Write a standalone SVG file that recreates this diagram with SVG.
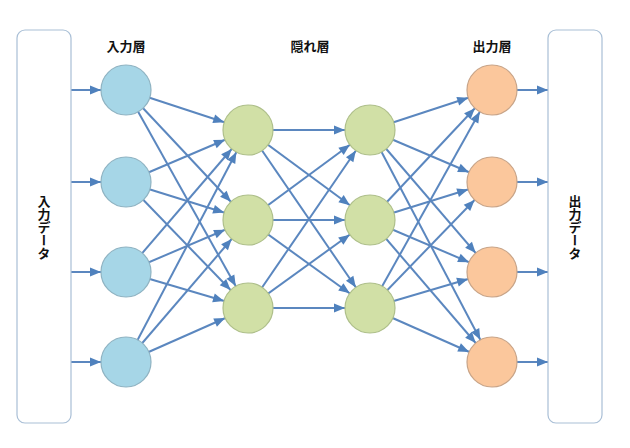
<svg xmlns="http://www.w3.org/2000/svg" width="630" height="448" viewBox="0 0 630 448">
<defs>
<marker id="ah" markerUnits="userSpaceOnUse" markerWidth="40" markerHeight="12" viewBox="0 -6 40 12" refX="40" refY="0" orient="auto" overflow="visible"><path d="M4,-4.5 L15,0 L4,4.5 Z" fill="#4f81bd"/></marker>
</defs>
<style>
.c line{stroke:#5b87bf;stroke-width:2;marker-end:url(#ah)}
.box{fill:#fff;stroke:#a9bfd6;stroke-width:1.2}
.in{fill:#a6d6e7;stroke:#8fb3c2;stroke-width:1.2}
.hd{fill:#d1e0a6;stroke:#aebf8a;stroke-width:1.2}
.out{fill:#fbc79c;stroke:#c8a488;stroke-width:1.2}
text{font-family:"Noto Sans CJK JP",sans-serif;font-weight:bold;font-size:13px;fill:#111}
.v{writing-mode:vertical-rl;text-anchor:middle}
</style>
<rect width="630" height="448" fill="#fff"/>
<g id="connectors" class="c">
<line x1="71" y1="90" x2="126" y2="90"/><line x1="71" y1="182" x2="126" y2="182"/><line x1="71" y1="272" x2="126" y2="272"/><line x1="71" y1="362" x2="126" y2="362"/>
<line x1="126" y1="90" x2="248" y2="130"/><line x1="126" y1="90" x2="248" y2="220"/><line x1="126" y1="90" x2="248" y2="308"/>
<line x1="126" y1="182" x2="248" y2="130"/><line x1="126" y1="182" x2="248" y2="220"/><line x1="126" y1="182" x2="248" y2="308"/>
<line x1="126" y1="272" x2="248" y2="130"/><line x1="126" y1="272" x2="248" y2="220"/><line x1="126" y1="272" x2="248" y2="308"/>
<line x1="126" y1="362" x2="248" y2="130"/><line x1="126" y1="362" x2="248" y2="220"/><line x1="126" y1="362" x2="248" y2="308"/>
<line x1="248" y1="130" x2="370" y2="130"/><line x1="248" y1="130" x2="370" y2="220"/><line x1="248" y1="130" x2="370" y2="308"/>
<line x1="248" y1="220" x2="370" y2="130"/><line x1="248" y1="220" x2="370" y2="220"/><line x1="248" y1="220" x2="370" y2="308"/>
<line x1="248" y1="308" x2="370" y2="130"/><line x1="248" y1="308" x2="370" y2="220"/><line x1="248" y1="308" x2="370" y2="308"/>
<line x1="370" y1="130" x2="492" y2="90"/><line x1="370" y1="130" x2="492" y2="182"/><line x1="370" y1="130" x2="492" y2="272"/><line x1="370" y1="130" x2="492" y2="362"/>
<line x1="370" y1="220" x2="492" y2="90"/><line x1="370" y1="220" x2="492" y2="182"/><line x1="370" y1="220" x2="492" y2="272"/><line x1="370" y1="220" x2="492" y2="362"/>
<line x1="370" y1="308" x2="492" y2="90"/><line x1="370" y1="308" x2="492" y2="182"/><line x1="370" y1="308" x2="492" y2="272"/><line x1="370" y1="308" x2="492" y2="362"/>
<line x1="492" y1="90" x2="573" y2="90"/><line x1="492" y1="182" x2="573" y2="182"/><line x1="492" y1="272" x2="573" y2="272"/><line x1="492" y1="362" x2="573" y2="362"/>
</g>
<g id="inputData"><rect class="box" x="17" y="30" width="54" height="393" rx="8"/><text class="v" x="44" y="227">入力データ</text></g>
<g id="outputData"><rect class="box" x="548" y="30" width="54" height="393" rx="8"/><text class="v" x="575" y="227">出力データ</text></g>
<g id="labels"><text x="126" y="51" text-anchor="middle">入力層</text><text x="310" y="51" text-anchor="middle">隠れ層</text><text x="492" y="51" text-anchor="middle">出力層</text></g>
<g id="i1"><circle class="in" cx="126" cy="90" r="25"/></g>
<g id="i2"><circle class="in" cx="126" cy="182" r="25"/></g>
<g id="i3"><circle class="in" cx="126" cy="272" r="25"/></g>
<g id="i4"><circle class="in" cx="126" cy="362" r="25"/></g>
<g id="h1"><circle class="hd" cx="248" cy="130" r="25"/></g>
<g id="h2"><circle class="hd" cx="248" cy="220" r="25"/></g>
<g id="h3"><circle class="hd" cx="248" cy="308" r="25"/></g>
<g id="h4"><circle class="hd" cx="370" cy="130" r="25"/></g>
<g id="h5"><circle class="hd" cx="370" cy="220" r="25"/></g>
<g id="h6"><circle class="hd" cx="370" cy="308" r="25"/></g>
<g id="o1"><circle class="out" cx="492" cy="90" r="25"/></g>
<g id="o2"><circle class="out" cx="492" cy="182" r="25"/></g>
<g id="o3"><circle class="out" cx="492" cy="272" r="25"/></g>
<g id="o4"><circle class="out" cx="492" cy="362" r="25"/></g>
</svg>
